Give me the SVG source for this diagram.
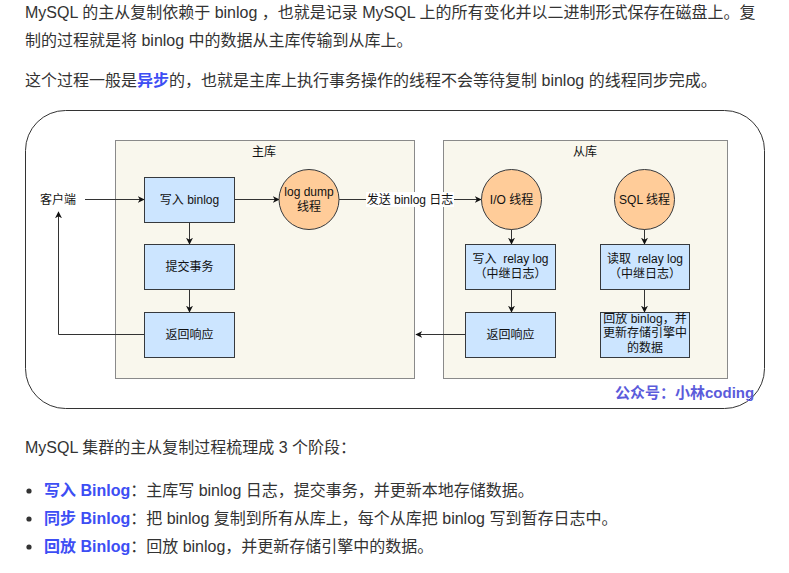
<svg xmlns="http://www.w3.org/2000/svg" width="789" height="573" viewBox="0 0 789 573">
<defs>
<marker id="arr" viewBox="0 0 10 10" refX="9" refY="5" markerWidth="7" markerHeight="7" markerUnits="userSpaceOnUse" orient="auto">
<path d="M0,0 L10,5 L0,10 L3,5 Z" fill="#111"/>
</marker>
</defs>
<style>
.p{font-family:"Liberation Sans","Noto Sans CJK SC",sans-serif;font-size:16px;fill:#333}
.hl{fill:#3d4ef4;font-weight:bold}
.t{font-family:"Liberation Sans","Noto Sans CJK SC",sans-serif;font-size:12px;fill:#111;text-anchor:middle}
.box{fill:#cce5ff;stroke:#36393d;stroke-width:1}
.circ{fill:#ffcc99;stroke:#36393d;stroke-width:1}
.cont{fill:#f9f7ed;stroke:#8a8a8a;stroke-width:1}
.ln{fill:none;stroke:#333;stroke-width:1}
.wm{font-family:"Liberation Sans","Noto Sans CJK SC",sans-serif;font-size:15px;font-weight:bold;fill:#5b5bdb}
</style>
<rect width="789" height="573" fill="#fff"/>
<g id="intro">
<text class="p" x="25" y="18">MySQL 的主从复制依赖于 binlog ，也就是记录 MySQL 上的所有变化并以二进制形式保存在磁盘上。复</text>
<text class="p" x="25" y="46">制的过程就是将 binlog 中的数据从主库传输到从库上。</text>
<text class="p" x="25" y="86">这个过程一般是<tspan class="hl">异步</tspan>的，也就是主库上执行事务操作的线程不会等待复制 binlog 的线程同步完成。</text>
</g>
<g id="frame">
<rect x="25.5" y="110.5" width="739" height="298" rx="40" ry="40" fill="#fff" stroke="#333" stroke-width="1"/>
</g>
<g id="master">
<rect class="cont" x="115.5" y="140.5" width="299" height="238"/>
<text class="t" x="264" y="156">主库</text>
</g>
<g id="slave">
<rect class="cont" x="443.5" y="140.5" width="284" height="238"/>
<text class="t" x="585" y="156">从库</text>
</g>
<g id="connectors">
<path class="ln" d="M85,199.5 H144" marker-end="url(#arr)"/>
<path class="ln" d="M234,199.5 H279" marker-end="url(#arr)"/>
<path class="ln" d="M189.5,222 V244" marker-end="url(#arr)"/>
<path class="ln" d="M189.5,289 V312" marker-end="url(#arr)"/>
<path class="ln" d="M144,334.5 H58.5 V212" marker-end="url(#arr)"/>
<path class="ln" d="M339,199.5 H481" marker-end="url(#arr)"/>
<path class="ln" d="M511.5,229 V244" marker-end="url(#arr)"/>
<path class="ln" d="M511.5,289 V312" marker-end="url(#arr)"/>
<path class="ln" d="M465,334.5 H416" marker-end="url(#arr)"/>
<path class="ln" d="M644.5,229 V244" marker-end="url(#arr)"/>
<path class="ln" d="M644.5,289 V312" marker-end="url(#arr)"/>
<rect x="366" y="192" width="88" height="15" fill="#fff"/>
<text class="t" x="410" y="203.5">发送 binlog 日志</text>
</g>
<g id="client">
<text class="t" x="58" y="203.5">客户端</text>
</g>
<g id="write-binlog">
<rect class="box" x="144.5" y="177.5" width="90" height="45"/>
<text class="t" x="189.5" y="204">写入 binlog</text>
</g>
<g id="commit">
<rect class="box" x="144.5" y="244.5" width="90" height="45"/>
<text class="t" x="189.5" y="271">提交事务</text>
</g>
<g id="master-response">
<rect class="box" x="144.5" y="312.5" width="90" height="45"/>
<text class="t" x="189.5" y="339">返回响应</text>
</g>
<g id="log-dump">
<circle class="circ" cx="309" cy="199.5" r="30"/>
<text class="t" x="309" y="196">log dump</text>
<text class="t" x="309" y="211">线程</text>
</g>
<g id="io-thread">
<circle class="circ" cx="511.5" cy="199.5" r="30"/>
<text class="t" x="511.5" y="204">I/O 线程</text>
</g>
<g id="sql-thread">
<circle class="circ" cx="644.5" cy="199.5" r="30"/>
<text class="t" x="644.5" y="204">SQL 线程</text>
</g>
<g id="write-relay">
<rect class="box" x="465.5" y="244.5" width="90" height="45"/>
<text class="t" x="510.5" y="263" xml:space="preserve">写入  relay log</text>
<text class="t" x="510.5" y="278">（中继日志）</text>
</g>
<g id="slave-response">
<rect class="box" x="465.5" y="312.5" width="90" height="45"/>
<text class="t" x="510.5" y="339">返回响应</text>
</g>
<g id="read-relay">
<rect class="box" x="600.5" y="244.5" width="89" height="45"/>
<text class="t" x="645" y="263" xml:space="preserve">读取  relay log</text>
<text class="t" x="645" y="278">（中继日志）</text>
</g>
<g id="replay">
<rect class="box" x="600.5" y="312.5" width="89" height="45"/>
<text class="t" x="645" y="322.5">回放 binlog，并</text>
<text class="t" x="645" y="337">更新存储引擎中</text>
<text class="t" x="645" y="351.5">的数据</text>
</g>
<g id="watermark">
<text class="wm" x="615" y="398">公众号：小林coding</text>
</g>
<g id="summary">
<text class="p" x="25" y="453">MySQL 集群的主从复制过程梳理成 3 个阶段：</text>
<circle cx="29" cy="491" r="2.6" fill="#333"/>
<circle cx="29" cy="519" r="2.6" fill="#333"/>
<circle cx="29" cy="547" r="2.6" fill="#333"/>
<text class="p" x="44" y="496"><tspan class="hl">写入 Binlog</tspan>：主库写 binlog 日志，提交事务，并更新本地存储数据。</text>
<text class="p" x="44" y="524"><tspan class="hl">同步 Binlog</tspan>：把 binlog 复制到所有从库上，每个从库把 binlog 写到暂存日志中。</text>
<text class="p" x="44" y="552"><tspan class="hl">回放 Binlog</tspan>：回放 binlog，并更新存储引擎中的数据。</text>
</g>
</svg>
